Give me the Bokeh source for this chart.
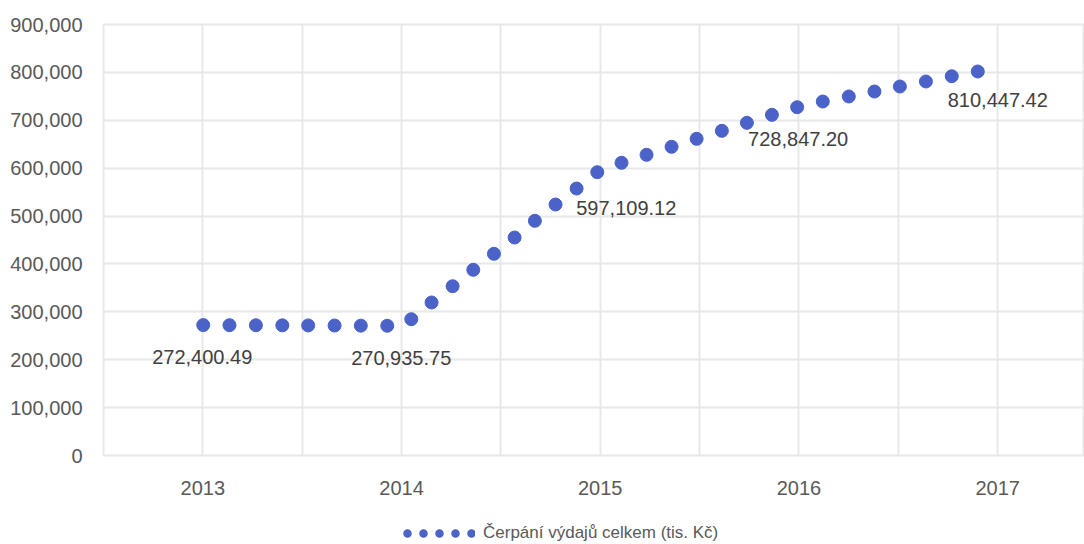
import math
from bokeh.plotting import figure
from bokeh.layouts import column
from bokeh.models import (Range1d, FixedTicker, NumeralTickFormatter, Legend,
                          LegendItem, ColumnDataSource)
from bokeh.core.properties import value
from bokeh.embed import file_html
from bokeh.resources import INLINE

# ---- data ----
period = [2013.002, 2013.134, 2013.267, 2013.400, 2013.530, 2013.663, 2013.795, 2013.928,
          2014.049, 2014.151, 2014.257, 2014.361, 2014.465, 2014.569, 2014.671, 2014.775,
          2014.881, 2014.985, 2015.107, 2015.233, 2015.359, 2015.485, 2015.612, 2015.738,
          2015.864, 2015.991, 2016.120, 2016.251, 2016.380, 2016.508, 2016.639, 2016.769,
          2016.900]
spending = [272400, 272200, 272000, 271800, 271600, 271400, 271200, 270936,
            284600, 319500, 353500, 387800, 421200, 455200, 490100, 524100,
            557500, 591600, 611200, 627900, 644600, 661300, 678000, 694700,
            711400, 727300, 739200, 749700, 760100, 770500, 781000, 792000,
            801900]
year_ticks = [2013, 2014, 2015, 2016, 2017]
year_labels = ["2013", "2014", "2015", "2016", "2017"]
half_year_lines = [2012.5, 2013.5, 2014.5, 2015.5, 2016.5]
value_ticks = [0, 100000, 200000, 300000, 400000, 500000, 600000, 700000, 800000, 900000]
label_index = [0, 7, 17, 25, 32]
label_text = ["272,400.49", "270,935.75", "597,109.12", "728,847.20", "810,447.42"]
series_name = "Čerpání výdajů celkem (tis. Kč)"

# ---- styling ----
label_dx = [-1, 14, 29, 1, 20]
label_dy = [32, 32, 36, 32, 29]
FONT = "Liberation Sans"
DOT = "#4B63C8"
GRID = "#E8E8E8"

W = 1084
H_MAIN, H_LEG = 515, 29
ML, MT = 103, 24
MB = H_MAIN - 455
frame_w = W - ML
px_per_year = 198.7

p = figure(width=W, height=H_MAIN, output_backend="svg", toolbar_location=None,
           x_range=Range1d(2012.5, 2012.5 + frame_w / px_per_year),
           y_range=Range1d(0, 900000),
           min_border_left=ML, min_border_right=0, min_border_top=MT,
           min_border_bottom=MB)
p.outline_line_color = GRID
p.outline_line_width = 2
p.background_fill_color = "white"
p.border_fill_color = "white"

xt = FixedTicker(ticks=year_ticks, minor_ticks=half_year_lines)
p.xaxis.ticker = xt
p.xaxis.major_label_overrides = {t: l for t, l in zip(year_ticks, year_labels)}
p.xgrid.ticker = xt
p.xgrid.grid_line_color = GRID
p.xgrid.grid_line_width = 2
p.xgrid.minor_grid_line_color = GRID
p.xgrid.minor_grid_line_width = 2

p.yaxis.ticker = FixedTicker(ticks=value_ticks)
p.yaxis.formatter = NumeralTickFormatter(format="0,0")
p.ygrid.grid_line_color = GRID
p.ygrid.grid_line_width = 2

for ax in (p.xaxis[0], p.yaxis[0]):
    ax.axis_line_color = None
    ax.major_tick_line_color = None
    ax.minor_tick_line_color = None
    ax.major_tick_out = 0
    ax.major_tick_in = 0
    ax.minor_tick_out = 0
    ax.minor_tick_in = 0
    ax.major_label_text_font = FONT
    ax.major_label_text_font_size = "20px"
    ax.major_label_text_color = "#595959"
p.xaxis.major_label_standoff = 25
p.yaxis.major_label_standoff = 21

src = ColumnDataSource(data=dict(x=period, y=spending))
p.scatter("x", "y", source=src, size=13, fill_color=DOT, line_color=DOT)

lsrc = ColumnDataSource(data=dict(
    x=[period[i] for i in label_index],
    y=[spending[i] for i in label_index],
    text=label_text, dx=label_dx, dy=label_dy))
p.text("x", "y", text="text", source=lsrc, x_offset="dx", y_offset="dy",
       text_align="center", text_baseline="middle",
       text_font=value(FONT), text_font_size="20px", text_color="#404040")

# ---- legend strip below the chart (its frame is aligned with the chart's) ----
lf = figure(width=W, height=H_LEG, output_backend="svg", toolbar_location=None,
            x_range=Range1d(0, 1), y_range=Range1d(0, 1),
            x_axis_type=None, y_axis_type=None,
            min_border_left=0, min_border_right=0, min_border_top=0,
            min_border_bottom=0)
lf.outline_line_color = None
lf.grid.visible = False
lf.background_fill_color = "white"
lf.border_fill_color = "white"
dummy = lf.line([float("nan")], [float("nan")], line_color=DOT, line_width=8.5,
                line_dash="0 16", line_dash_offset=12, line_cap="round")
legend = Legend(items=[LegendItem(label=series_name, renderers=[dummy])],
                location=(403 - ML, 1), orientation="horizontal",
                glyph_width=72, glyph_height=20, label_standoff=8,
                padding=0, margin=0, border_line_color=None,
                background_fill_color=None, background_fill_alpha=0,
                label_text_font=FONT, label_text_font_size="17px",
                label_text_color="#595959")
lf.add_layout(legend)

layout = column(p, lf, spacing=0)
open("out.html", "w").write(file_html(layout, INLINE))
